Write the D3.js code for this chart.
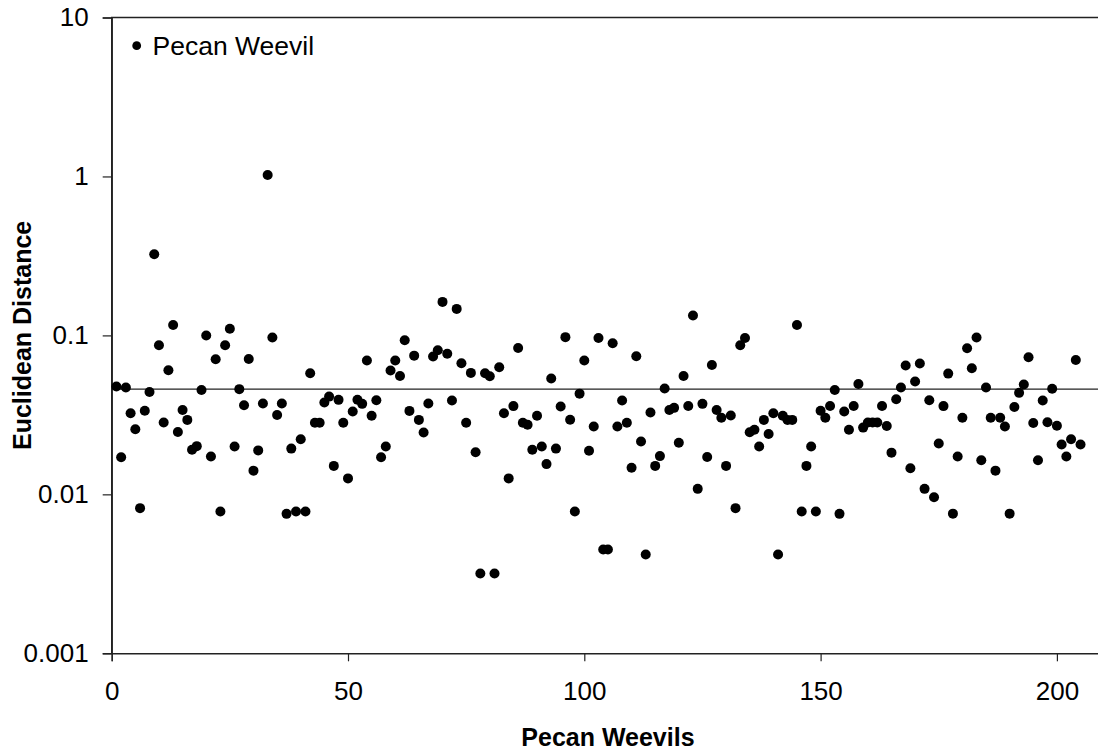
<!DOCTYPE html>
<html>
<head>
<meta charset="utf-8">
<script src="https://cdn.jsdelivr.net/npm/d3@7"></script>
<style>
  html, body { margin: 0; padding: 0; background: #fff; }
  svg { display: block; font-family: Arial, "Liberation Sans", Helvetica, sans-serif; }
</style>
</head>
<body>
<svg id="chart" width="1098" height="750"></svg>
<script>
// ---- data ----
const seriesName = "Pecan Weevil";
const xTitle = "Pecan Weevils";
const yTitle = "Euclidean Distance";
const xTicks = [0, 50, 100, 150, 200];
const yTicks = [0.001, 0.01, 0.1, 1, 10];
const yTickLabels = ["0.001", "0.01", "0.1", "1", "10"];
const meanDistance = 0.0459;
const distances = [
  0.0477, 0.0171, 0.047, 0.0324, 0.0257, 0.00819, 0.0336, 0.0441, 0.324, 0.0867,
  0.0283, 0.0604, 0.1164, 0.0247, 0.0339, 0.0294, 0.0191, 0.0201, 0.0454, 0.0998,
  0.0173, 0.0708, 0.0078, 0.0867, 0.11, 0.02, 0.0459, 0.0364, 0.0711, 0.0141,
  0.0189, 0.0373, 1.02, 0.0969, 0.0316, 0.0373, 0.00754, 0.0194, 0.0078, 0.0222,
  0.0078, 0.0578, 0.0282, 0.0282, 0.0378, 0.0412, 0.0151, 0.0393, 0.0282, 0.0126,
  0.0332, 0.0394, 0.0371, 0.0695, 0.0312, 0.0391, 0.0171, 0.02, 0.0601, 0.0695,
  0.0556, 0.0933, 0.0335, 0.0746, 0.0294, 0.0245, 0.0373, 0.0736, 0.0807, 0.1625,
  0.0766, 0.0389, 0.1468, 0.0668, 0.0282, 0.0581, 0.0184, 0.00318, 0.0578, 0.0554,
  0.00318, 0.0631, 0.0324, 0.0126, 0.0359, 0.0834, 0.0282, 0.0274, 0.0191, 0.0312,
  0.02, 0.0155, 0.0535, 0.0194, 0.0357, 0.0975, 0.0295, 0.0078, 0.043, 0.0695,
  0.0188, 0.0267, 0.0964, 0.0045, 0.0045, 0.0893, 0.0267, 0.0389, 0.0282, 0.0147,
  0.074, 0.0215, 0.00418, 0.0327, 0.0151, 0.0174, 0.0463, 0.0339, 0.035, 0.0211,
  0.0556, 0.036, 0.1333, 0.01083, 0.0371, 0.0172, 0.0652, 0.0339, 0.0303, 0.0151,
  0.0313, 0.00819, 0.0867, 0.0964, 0.0246, 0.0255, 0.02, 0.0294, 0.024, 0.0324,
  0.00418, 0.0312, 0.0294, 0.0294, 0.1164, 0.0078, 0.0151, 0.02, 0.0078, 0.0336,
  0.0303, 0.036, 0.0454, 0.00754, 0.0332, 0.0255, 0.036, 0.0495, 0.0263, 0.0283,
  0.0283, 0.0283, 0.036, 0.0269, 0.0183, 0.0397, 0.047, 0.0646, 0.0146, 0.0513,
  0.0665, 0.01083, 0.0391, 0.0096, 0.0209, 0.0359, 0.0575, 0.00756, 0.0173, 0.0303,
  0.083, 0.0622, 0.0969, 0.0164, 0.047, 0.0303, 0.0141, 0.0303, 0.0267, 0.00756,
  0.0354, 0.0435, 0.0491, 0.0729, 0.0281, 0.0164, 0.0389, 0.0284, 0.0462, 0.027,
  0.0206, 0.0173, 0.0222, 0.0701, 0.0206
];
const points = distances.map((v, i) => ({ id: i + 1, v }));

// ---- layout ----
const svg = d3.select("#chart");
const plotLeft = 111.7, plotTop = 17.5, plotBottom = 653.3;
const plotRight = plotLeft + 4.726 * 210;
const tickFont = 26;

const x = d3.scaleLinear().domain([0, 210]).range([plotLeft, plotRight]);
const y = d3.scaleLog().domain([0.001, 10]).range([plotBottom, plotTop]);

// frame (top edge; right edge is beyond the canvas)
svg.append("path")
  .attr("d", `M${plotLeft},${plotBottom}V${plotTop}H${plotRight}V${plotBottom}`)
  .attr("fill", "none").attr("stroke", "#222").attr("stroke-width", 1.4);

// mean line
svg.append("line")
  .attr("x1", plotLeft).attr("x2", plotRight)
  .attr("y1", y(meanDistance)).attr("y2", y(meanDistance))
  .attr("stroke", "#222").attr("stroke-width", 1.4);

// axes
const xAxis = d3.axisBottom(x).tickValues(xTicks).tickSize(8).tickPadding(20).tickFormat(d3.format("d"));
const yAxis = d3.axisLeft(y).tickValues(yTicks).tickSize(9).tickPadding(14)
  .tickFormat((d, i) => yTickLabels[i]);

const gx = svg.append("g").attr("transform", `translate(0,${plotBottom})`).call(xAxis);
const gy = svg.append("g").attr("transform", `translate(${plotLeft},0)`).call(yAxis);
[gx, gy].forEach(g => {
  g.select(".domain").attr("stroke", "#222").attr("stroke-width", 1.4);
  g.selectAll(".tick line").attr("stroke", "#222").attr("stroke-width", 1.2);
  g.selectAll(".tick text").attr("fill", "#000")
    .style("font-size", tickFont + "px").style("font-family", "Arial, 'Liberation Sans', sans-serif");
});

// points
svg.append("g").selectAll("circle").data(points).join("circle")
  .attr("cx", d => x(d.id)).attr("cy", d => y(d.v)).attr("r", 5)
  .attr("fill", "#000");

// legend
svg.append("circle").attr("cx", 136.7).attr("cy", 45.7).attr("r", 4.4).attr("fill", "#000");
svg.append("text").attr("x", 152.5).attr("y", 55)
  .style("font-size", "26.5px").attr("fill", "#000").text(seriesName);

// titles
svg.append("text").attr("x", (plotLeft + plotRight) / 2).attr("y", 746)
  .attr("text-anchor", "middle").style("font-size", "25px").style("font-weight", "bold")
  .attr("fill", "#000").text(xTitle);
svg.append("text")
  .attr("transform", `translate(31,${(plotTop + plotBottom) / 2}) rotate(-90)`)
  .attr("text-anchor", "middle").style("font-size", "25px").style("font-weight", "bold")
  .attr("fill", "#000").text(yTitle);
</script>
</body>
</html>
